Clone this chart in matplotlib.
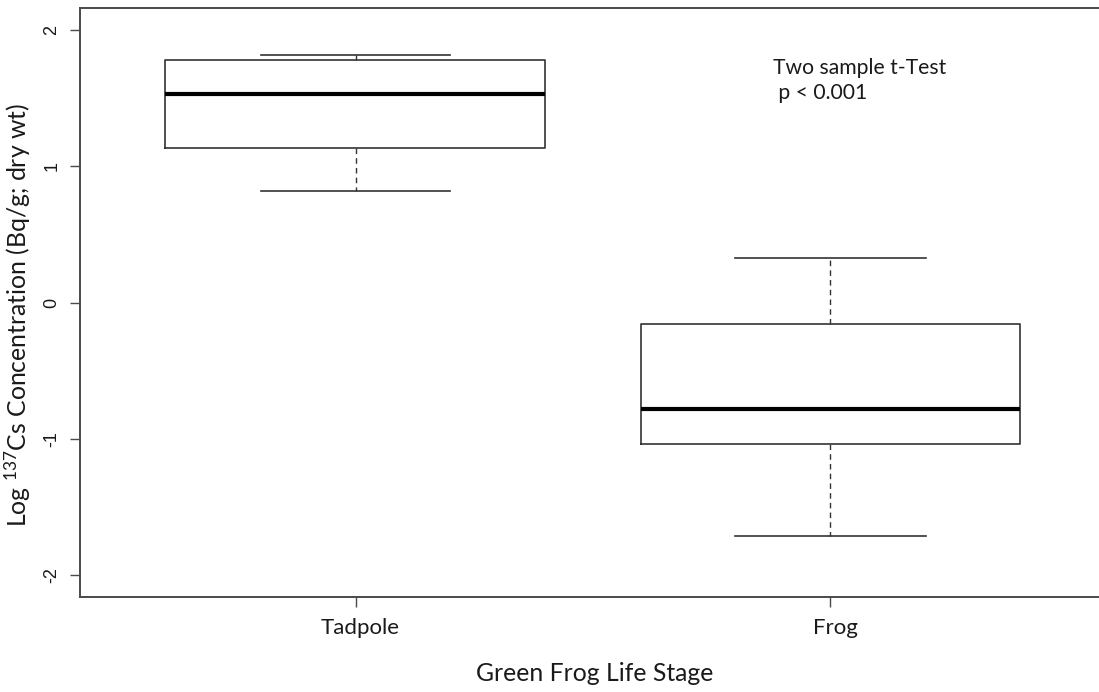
import matplotlib
matplotlib.use("Agg")
import matplotlib.pyplot as plt
import matplotlib.transforms as mtransforms

# Log10 137Cs concentration summary per life stage
stages = ["Tadpole", "Frog"]
whisker_low = [0.82, -1.71]
quart_low = [1.135, -1.04]
medians = [1.53, -0.78]
quart_high = [1.78, -0.16]
whisker_high = [1.815, 0.325]

y_ticks = [-2, -1, 0, 1, 2]
y_tick_labels = ["-2", "-1", "0", "1", "2"]

TEXT_FONT = "Lato"
TICK_FONT = "Liberation Sans"
TEXT_COLOR = "#1a1a1a"
FRAME_COLOR = "#4a4a4a"
BOX_COLOR = "#333333"

plt.rcParams["mathtext.fontset"] = "custom"
plt.rcParams["mathtext.rm"] = TEXT_FONT
plt.rcParams["mathtext.it"] = TEXT_FONT

W, H = 1099, 692
fig = plt.figure(figsize=(W / 100, H / 100), dpi=100)
fig.patch.set_facecolor("white")
# frame runs a little past the right edge of the image
ax = fig.add_axes([80 / W, 95 / H, 1026 / W, 589 / H])

stats = []
for i, name in enumerate(stages):
    stats.append(dict(label=name, whislo=whisker_low[i], q1=quart_low[i],
                      med=medians[i], q3=quart_high[i], whishi=whisker_high[i],
                      fliers=[]))

positions = list(range(1, len(stages) + 1))
ax.bxp(stats, positions=positions, widths=0.8, capwidths=0.4, showfliers=False,
       boxprops=dict(color=BOX_COLOR, linewidth=1.2),
       medianprops=dict(color="black", linewidth=3.0, solid_capstyle="butt"),
       whiskerprops=dict(color=BOX_COLOR, linewidth=1.0, linestyle=(0, (4, 3))),
       capprops=dict(color=BOX_COLOR, linewidth=1.2))

ax.set_xlim(0.42, 2.58)
ax.set_ylim(-2.16, 2.16)

for side in ["top", "left", "bottom", "right"]:
    ax.spines[side].set_color(FRAME_COLOR)
    ax.spines[side].set_linewidth(1.4)

ax.set_yticks(y_ticks)
ax.set_yticklabels(y_tick_labels, rotation=90, va="center",
                   fontfamily=TICK_FONT, fontsize=13, color=TEXT_COLOR)
ax.set_xticks(positions)
ax.set_xticklabels(stages, fontfamily=TEXT_FONT, fontsize=16, color=TEXT_COLOR)
ax.tick_params(axis="both", length=7.2, width=1.0, color=FRAME_COLOR)
ax.tick_params(axis="y", pad=7)
ax.tick_params(axis="x", pad=8)

# category names sit a few pixels right of their ticks
nudge = mtransforms.ScaledTranslation(0.05, 0, fig.dpi_scale_trans)
for lab in ax.get_xticklabels():
    lab.set_transform(lab.get_transform() + nudge)

ax.set_xlabel("Green Frog Life Stage", fontfamily=TEXT_FONT, fontsize=17.8,
              color=TEXT_COLOR)
ax.xaxis.set_label_coords(0.502, -0.110)
ax.set_ylabel("Log $^{137}$Cs Concentration (Bq/g; dry wt)",
              fontfamily=TEXT_FONT, fontsize=17.8, color=TEXT_COLOR)
ax.yaxis.set_label_coords(-0.046, 0.479)

ax.text(1.878, 1.674, "Two sample t-Test", fontfamily=TEXT_FONT, fontsize=15.2,
        color=TEXT_COLOR, va="baseline", ha="left")
ax.text(1.878, 1.491, " p < 0.001", fontfamily=TEXT_FONT, fontsize=15.2,
        color=TEXT_COLOR, va="baseline", ha="left")

fig.savefig("out.png", dpi=100, facecolor="white")
plt.close(fig)
